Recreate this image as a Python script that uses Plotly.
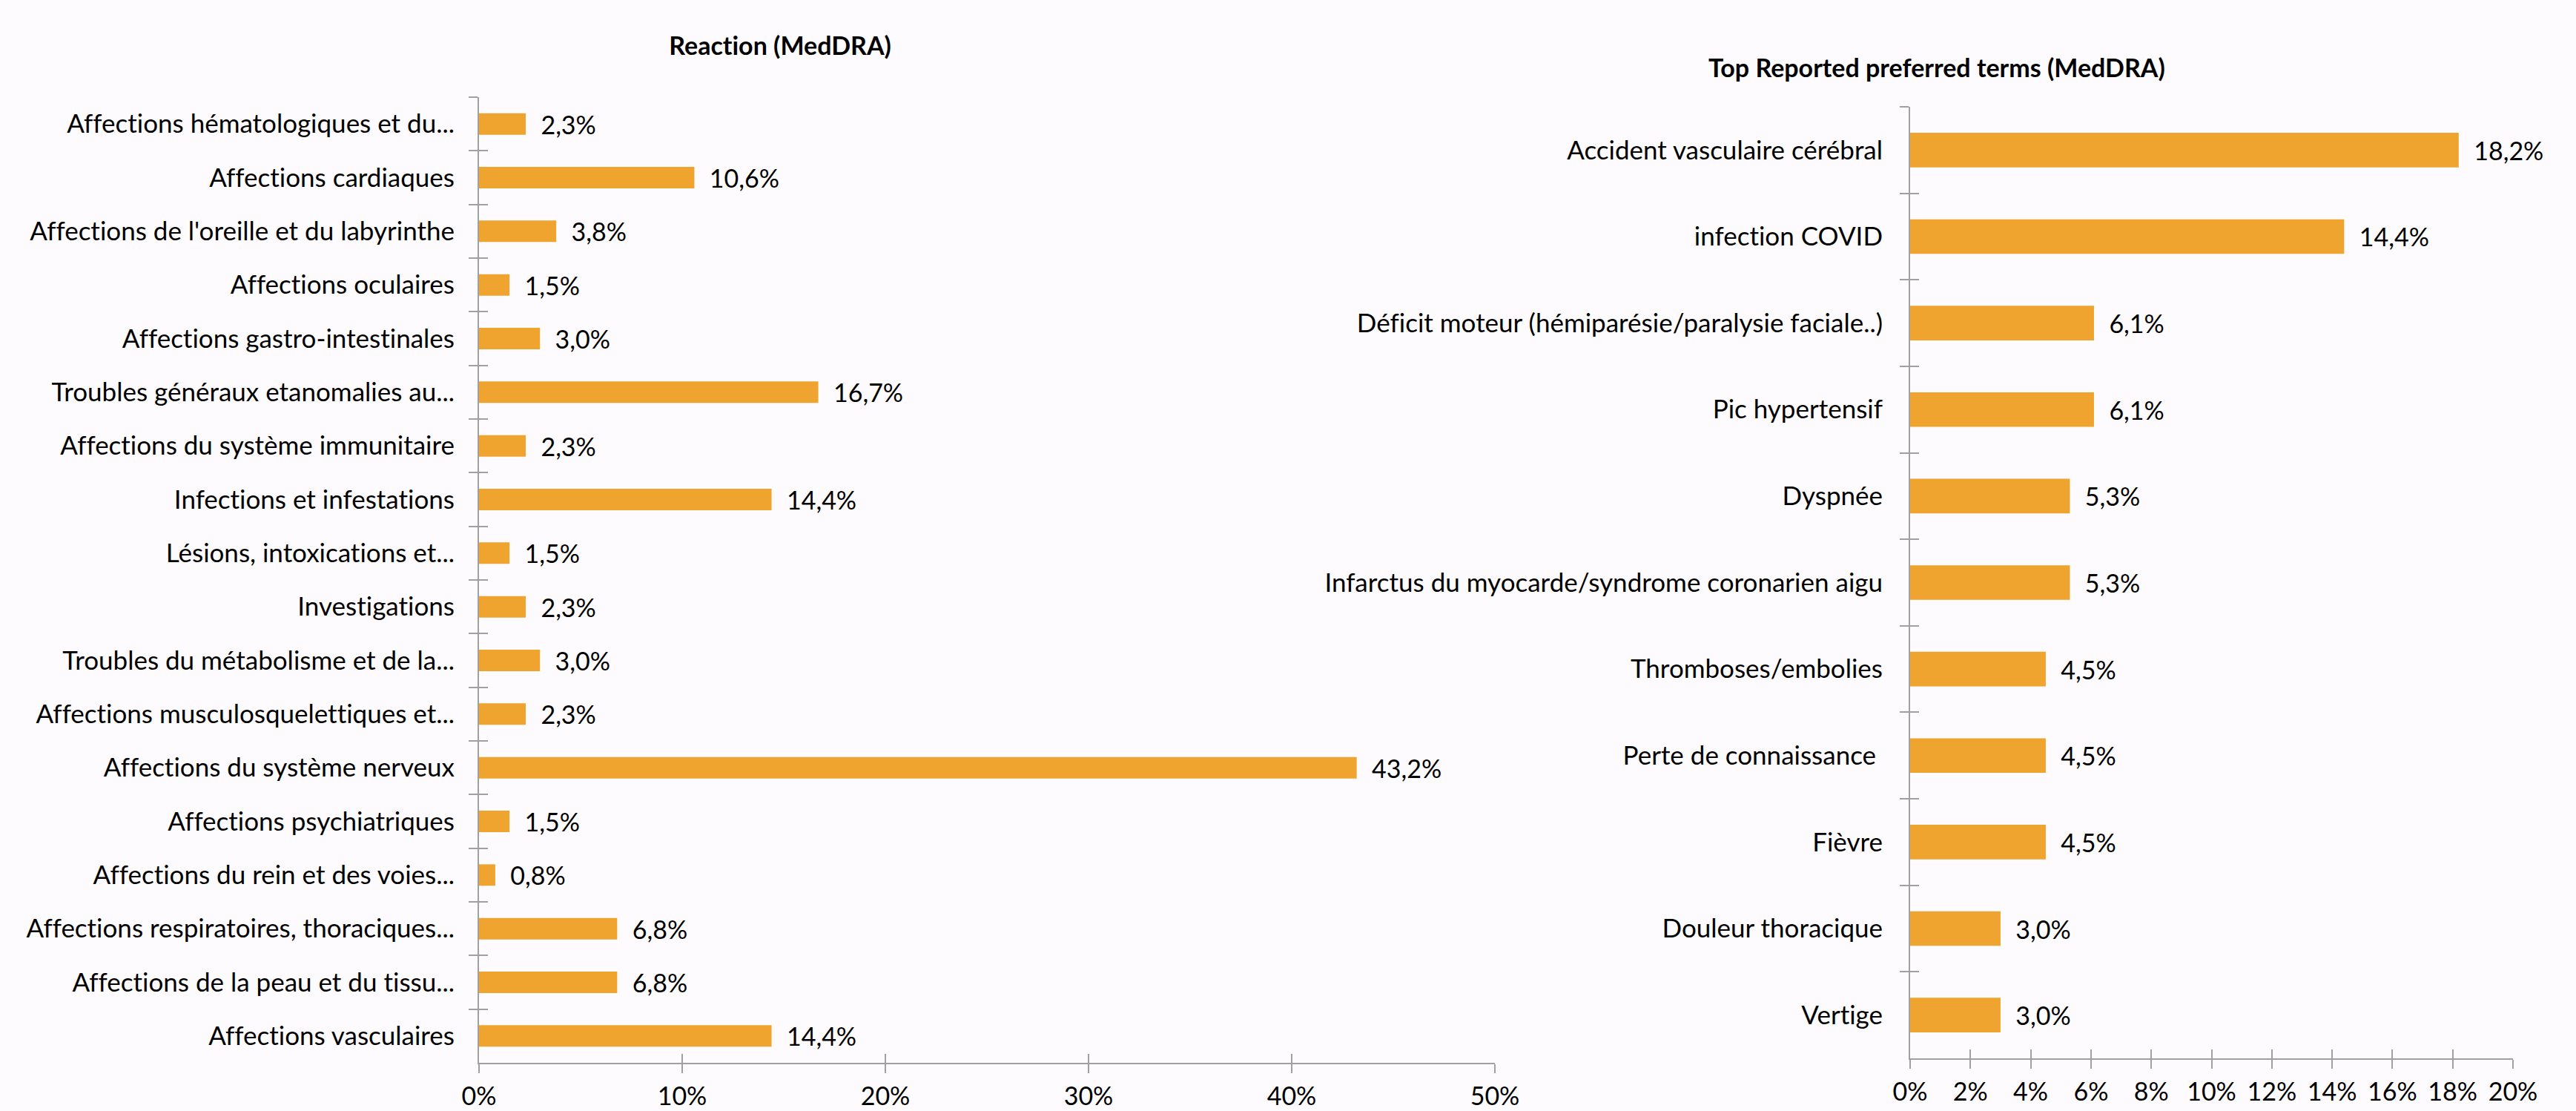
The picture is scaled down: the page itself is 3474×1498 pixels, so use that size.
import plotly.graph_objects as go

# ---------------- data ----------------
reaction_labels = [
    "Affections hématologiques et du...",
    "Affections cardiaques",
    "Affections de l'oreille et du labyrinthe",
    "Affections oculaires",
    "Affections gastro-intestinales",
    "Troubles généraux etanomalies au...",
    "Affections du système immunitaire",
    "Infections et infestations",
    "Lésions, intoxications et...",
    "Investigations",
    "Troubles du métabolisme et de la...",
    "Affections musculosquelettiques et...",
    "Affections du système nerveux",
    "Affections psychiatriques",
    "Affections du rein et des voies...",
    "Affections respiratoires, thoraciques...",
    "Affections de la peau et du tissu...",
    "Affections vasculaires",
]
reaction_pct = [2.3, 10.6, 3.8, 1.5, 3.0, 16.7, 2.3, 14.4, 1.5, 2.3, 3.0, 2.3, 43.2, 1.5, 0.8, 6.8, 6.8, 14.4]

pt_labels = [
    "Accident vasculaire cérébral",
    "infection COVID",
    "Déficit moteur (hémiparésie/paralysie faciale..)",
    "Pic hypertensif",
    "Dyspnée",
    "Infarctus du myocarde/syndrome coronarien aigu",
    "Thromboses/embolies",
    "Perte de connaissance ",
    "Fièvre",
    "Douleur thoracique",
    "Vertige",
]
pt_pct = [18.2, 14.4, 6.1, 6.1, 5.3, 5.3, 4.5, 4.5, 4.5, 3.0, 3.0]

left_title = "Reaction (MedDRA)"
right_title = "Top Reported preferred terms (MedDRA)"
left_xmax, left_dtick = 50, 10
right_xmax, right_dtick = 20, 2

# ---------------- style ----------------
BAR = "#F0A430"
AXIS = "#a0a0a0"
BG = "#fdfbfd"
FONT = "Lato"
FS = 35
W, H = 3474, 1498

fig = go.Figure()


def add_chart(labels, vals, xa, ya, xo, yo):
    fig.add_trace(go.Bar(
        x=vals, y=labels, orientation="h", xaxis=xa, yaxis=ya,
        marker=dict(color=BAR, line=dict(width=0)),
        texttemplate="  %{x:.1f}%", textposition="outside", cliponaxis=False,
        constraintext="none",
        textfont=dict(family=FONT, size=34, color="#000000"),
        hoverinfo="skip", showlegend=False,
    ))
    # invisible duplicate that carries the "inside" half of the crossing tick marks
    fig.add_trace(go.Bar(
        x=vals, y=labels, orientation="h", xaxis=xo, yaxis=yo,
        marker=dict(color="rgba(0,0,0,0)"), opacity=0,
        hoverinfo="skip", showlegend=False,
    ))


add_chart(reaction_labels, reaction_pct, "x", "y", "x3", "y3")
add_chart(pt_labels, pt_pct, "x2", "y2", "x4", "y4")

L_xd = [646 / W, 2016 / W]
L_yd = [1 - 1433 / H, 1 - 131 / H]
R_xd = [2576 / W, 3389 / W]
R_yd = [1 - 1427 / H, 1 - 144 / H]

tickfont = dict(family=FONT, size=FS, color="#000000")


def xaxis_main(domain, anchor, xmax, dtick):
    return dict(domain=domain, anchor=anchor, range=[0, xmax], dtick=dtick, tick0=0,
                ticksuffix="%", showgrid=False, zeroline=False, automargin=False,
                showline=True, linecolor=AXIS, linewidth=2,
                ticks="outside", ticklen=12, tickcolor=AXIS, tickwidth=2,
                ticklabelstandoff=2, tickfont=dict(family=FONT, size=34, color="#000000"),
                fixedrange=True)


def xaxis_over(over, anchor, xmax, dtick):
    return dict(overlaying=over, anchor=anchor, range=[0, xmax], dtick=dtick, tick0=0,
                showgrid=False, zeroline=False, showline=False, showticklabels=False,
                automargin=False,
                ticks="inside", ticklen=12, tickcolor=AXIS, tickwidth=2, fixedrange=True)


def yaxis_main(domain, anchor, labels, standoff):
    n = len(labels)
    return dict(domain=domain, anchor=anchor, type="category",
                categoryorder="array", categoryarray=labels, range=[n - 0.5, -0.5],
                showgrid=False, zeroline=False, automargin=False,
                showline=True, linecolor=AXIS, linewidth=2,
                ticks="outside", ticklen=12, tickcolor=AXIS, tickwidth=2, tickson="boundaries",
                ticklabelstandoff=standoff, tickfont=tickfont, fixedrange=True)


def yaxis_over(over, anchor, labels):
    n = len(labels)
    return dict(overlaying=over, anchor=anchor, type="category",
                categoryorder="array", categoryarray=labels, range=[n - 0.5, -0.5],
                showgrid=False, zeroline=False, showline=False, showticklabels=False,
                automargin=False,
                ticks="inside", ticklen=12, tickcolor=AXIS, tickwidth=2, tickson="boundaries",
                fixedrange=True)


fig.update_layout(
    width=W, height=H, autosize=False,
    margin=dict(l=0, r=0, t=0, b=0, pad=0),
    paper_bgcolor=BG, plot_bgcolor="rgba(0,0,0,0)",
    separators=",.",
    bargap=0.6,
    font=dict(family=FONT, size=FS, color="#000000"),
    xaxis=xaxis_main(L_xd, "y", left_xmax, left_dtick),
    yaxis=yaxis_main(L_yd, "x", reaction_labels, 24),
    xaxis2=xaxis_main(R_xd, "y2", right_xmax, right_dtick),
    yaxis2=yaxis_main(R_yd, "x2", pt_labels, 28),
    xaxis3=xaxis_over("x", "y3", left_xmax, left_dtick),
    yaxis3=yaxis_over("y", "x3", reaction_labels),
    xaxis4=xaxis_over("x2", "y4", right_xmax, right_dtick),
    yaxis4=yaxis_over("y2", "x4", pt_labels),
    annotations=[
        dict(text="<b>" + left_title + "</b>", x=1052 / W, y=1 - 60 / H, xref="paper", yref="paper",
             xanchor="center", yanchor="middle", showarrow=False,
             font=dict(family=FONT, size=34, color="#000000")),
        dict(text="<b>" + right_title + "</b>", x=2612 / W, y=1 - 90 / H, xref="paper", yref="paper",
             xanchor="center", yanchor="middle", showarrow=False,
             font=dict(family=FONT, size=34, color="#000000")),
    ],
)

post = (
    "document.body.style.margin='0';"
    "document.body.style.overflow='hidden';"
    "var s=document.createElement('style');"
    "s.textContent='.js-plotly-plot text{font-variant-ligatures:none;font-feature-settings:\"liga\" 0;}';"
    "document.head.appendChild(s);"
)

fig.write_html("out.html", config={"displayModeBar": False, "responsive": False},
               post_script=post)
